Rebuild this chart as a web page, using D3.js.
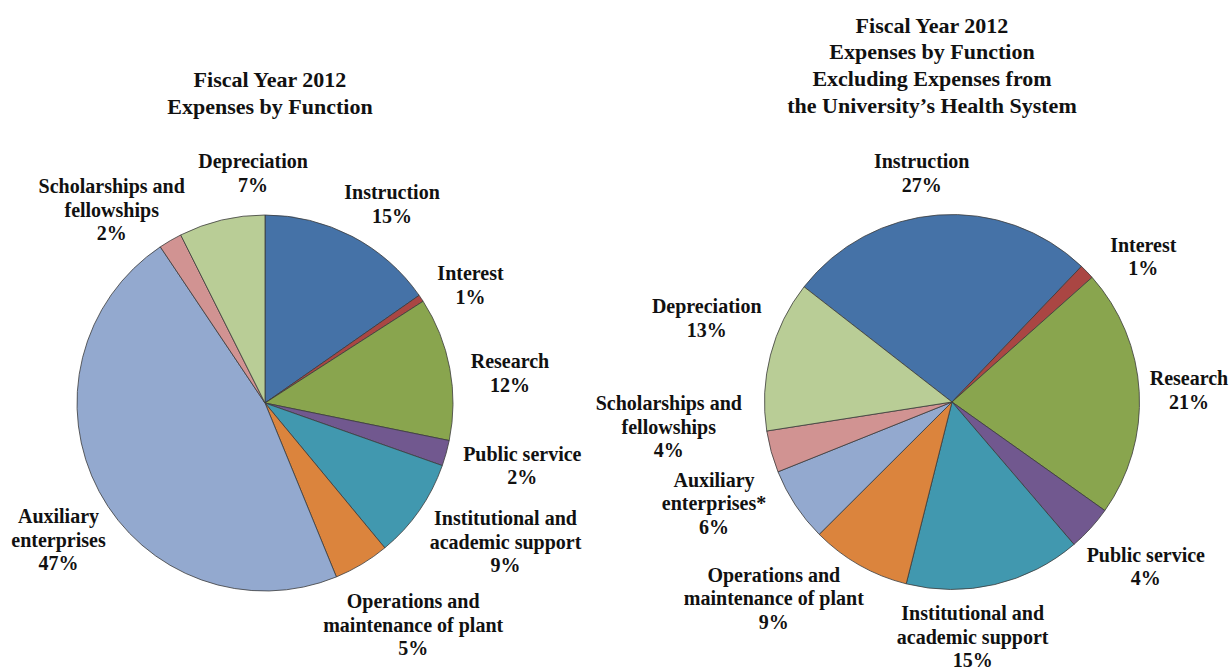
<!DOCTYPE html>
<html>
<head>
<meta charset="utf-8">
<script src="https://cdn.jsdelivr.net/npm/d3@7"></script>
<style>
  html, body { margin: 0; padding: 0; background: #fff; }
  svg { display: block; }
  text { font-family: "Liberation Serif", "Times New Roman", serif; font-weight: 700; fill: #111; }
</style>
</head>
<body>
<div id="chart"></div>
<script>
// functions, clockwise from the first slice
const categories = [
  "Instruction", "Interest", "Research", "Public service",
  "Institutional and academic support", "Operations and maintenance of plant",
  "Auxiliary enterprises", "Scholarships and fellowships", "Depreciation"
];
// share of total expenses, percent
const allExpenses = [15.3, 0.6, 12.3, 2.2, 8.6, 4.8, 46.8, 2.0, 7.4];
const noHealthSystem = [26.6, 1.3, 21.4, 3.9, 15.2, 8.6, 6.4, 3.6, 13.0];

// how each label wraps
const labelLinesAll = [
  ["Instruction"], ["Interest"], ["Research"], ["Public service"],
  ["Institutional and", "academic support"], ["Operations and", "maintenance of plant"],
  ["Auxiliary", "enterprises"], ["Scholarships and", "fellowships"], ["Depreciation"]
];
const labelLinesNoHealth = [
  ["Instruction"], ["Interest"], ["Research"], ["Public service"],
  ["Institutional and", "academic support"], ["Operations and", "maintenance of plant"],
  ["Auxiliary", "enterprises*"], ["Scholarships and", "fellowships"], ["Depreciation"]
];

const titleAll = ["Fiscal Year 2012", "Expenses by Function"];
const titleNoHealth = [
  "Fiscal Year 2012", "Expenses by Function",
  "Excluding Expenses from", "the University\u2019s Health System"
];

const colors = ["#4572A7", "#AA4643", "#89A54E", "#71588F", "#4198AF",
  "#DB843D", "#93A9CF", "#D19392", "#B9CD96"];

const width = 1232, height = 671;
const svg = d3.select("#chart").append("svg")
  .attr("width", width)
  .attr("height", height)
  .attr("viewBox", `0 0 ${width} ${height}`);

const color = d3.scaleOrdinal(categories, colors);

function drawPie(cfg) {
  const pie = d3.pie()
    .sort(null)
    .value((d) => d.value)
    .startAngle(cfg.startDeg * Math.PI / 180)
    .endAngle(cfg.startDeg * Math.PI / 180 + Math.PI * 2);

  const arc = d3.arc().innerRadius(0).outerRadius(cfg.radius);
  const rows = categories.map((name, i) => ({ name, value: cfg.values[i], lines: cfg.lines[i], offset: cfg.labelOffsets[i] }));

  const g = svg.append("g").attr("transform", `translate(${cfg.cx},${cfg.cy})`);

  g.selectAll("path")
    .data(pie(rows))
    .join("path")
    .attr("d", arc)
    .attr("fill", (d) => color(d.data.name))
    .attr("stroke", "#3b3b3b")
    .attr("stroke-width", 0.8)
    .attr("stroke-linejoin", "round");

  const labels = g.selectAll("text.label")
    .data(rows)
    .join("text")
    .attr("class", "label")
    .attr("text-anchor", "middle")
    .attr("font-size", 20)
    .attr("transform", (d) => `translate(${d.offset[0]},${d.offset[1]})`);

  labels.selectAll("tspan")
    .data((d) => [...d.lines, `${Math.round(d.value)}%`])
    .join("tspan")
    .attr("x", 0)
    .attr("y", (d, i) => i * 23.6)
    .text((d) => d);

  svg.append("text")
    .attr("text-anchor", "middle")
    .attr("font-size", 22)
    .selectAll("tspan")
    .data(cfg.title)
    .join("tspan")
    .attr("x", cfg.titleX)
    .attr("y", (d, i) => cfg.titleY + i * 26.8)
    .text((d) => d);
}

drawPie({
  values: allExpenses,
  lines: labelLinesAll,
  title: titleAll,
  titleX: 270, titleY: 87,
  cx: 265, cy: 403, radius: 188,
  startDeg: 0,
  labelOffsets: [
    [127, -204], [205.5, -123], [245, -34.7], [257.3, 57.7], [240.5, 122],
    [148.2, 205.3], [-206.5, 120.3], [-153.3, -209.7], [-12, -235]
  ]
});

drawPie({
  values: noHealthSystem,
  lines: labelLinesNoHealth,
  title: titleNoHealth,
  titleX: 932, titleY: 32.5,
  cx: 952, cy: 402, radius: 187.5,
  startDeg: -52.1,
  labelOffsets: [
    [-30.3, -233.7], [191.3, -150.3], [237, -17], [193.8, 159.7], [20.7, 218],
    [-178.2, 179.7], [-238, 84.7], [-283.2, 8], [-245.3, -88.7]
  ]
});
</script>
</body>
</html>
